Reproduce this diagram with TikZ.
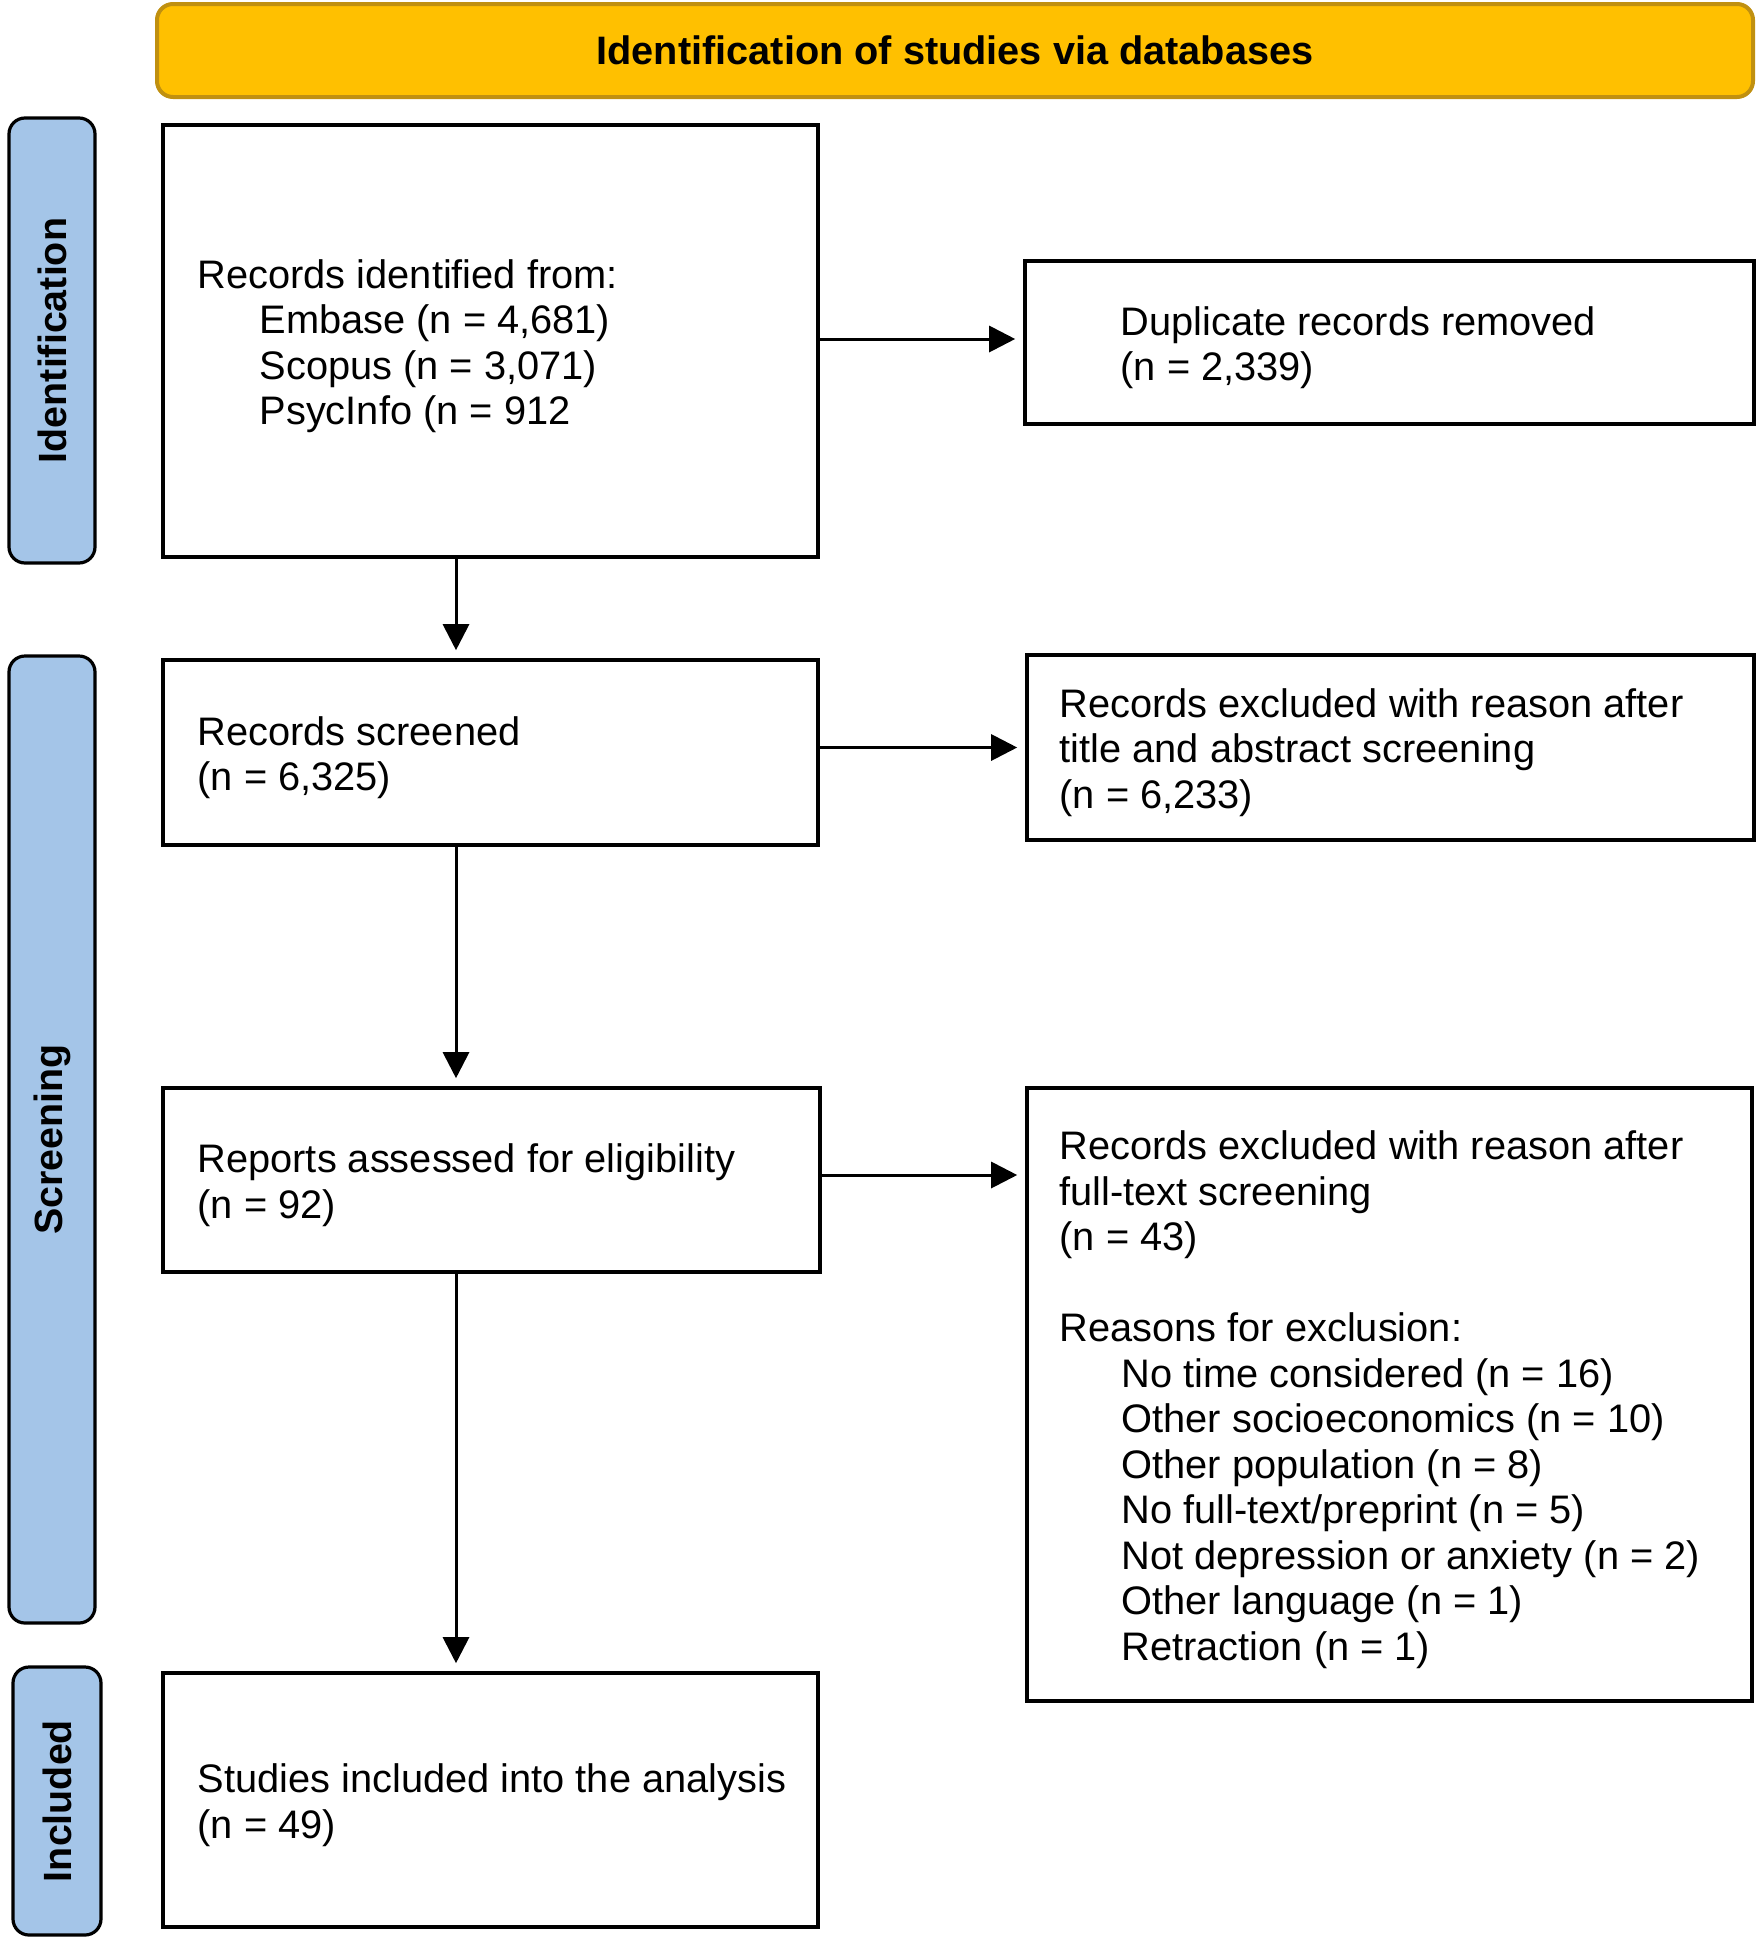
\documentclass[tikz,border=0pt]{standalone}
\usepackage{fontspec}
\setmainfont{Liberation Sans}
\usetikzlibrary{arrows.meta}
\definecolor{barblue}{HTML}{A4C5E8}
\definecolor{bannerfill}{HTML}{FFC000}
\definecolor{bannerdraw}{HTML}{C09010}
\tikzset{
  box/.style={draw=black, line width=1.8pt, rectangle, inner sep=0pt, fill=white},
  txt/.style={anchor=west, align=left, inner sep=0pt, yshift=-2.5pt, font=\fontsize{19.9}{22.75}\selectfont},
  bar/.style={draw=black, line width=1.6pt, fill=barblue, rounded corners=8pt, inner sep=0pt},
  barlabel/.style={rotate=90, font=\fontsize{19.7}{22.75}\selectfont\bfseries, inner sep=0pt},
  banner/.style={draw=bannerdraw, line width=2pt, fill=bannerfill, rounded corners=8pt, inner sep=0pt,
    font=\fontsize{19.85}{22.75}\selectfont\bfseries},
  arr/.style={line width=1.5pt, -{Triangle[length=13pt,width=13pt]}, shorten >=4pt}
}
\newcommand{\ind}{\hspace*{31pt}}
\begin{document}
\begin{tikzpicture}[x=0.5pt, y=-0.5pt]
\useasboundingbox (0,0) rectangle (1760,1938);
% banner
\node[banner, minimum width=798pt, minimum height=46.5pt] (ban) at (955,50.5) {Identification of studies via databases};
% side bars
\node[bar, minimum width=43pt, minimum height=222.5pt] (bar1) at (52,340.5) {};
\node[barlabel] (lab1) at (bar1.center) {Identification};
\node[bar, minimum width=43pt, minimum height=483.5pt] (bar2) at (52,1139.5) {};
\node[barlabel] (lab2) at (bar2.center) {Screening};
\node[bar, minimum width=44pt, minimum height=134pt] (bar3) at (57,1801) {};
\node[barlabel] (lab3) at (bar3.center) {Included};
% boxes
\node[box, minimum width=327.5pt, minimum height=216pt] (b1) at (490.5,341) {};
\node[txt] (t1) at ([xshift=18pt]b1.west) {Records identified from:\\ \ind Embase (n = 4,681)\\ \ind Scopus (n = 3,071)\\ \ind PsycInfo (n = 912};
\node[box, minimum width=364.5pt, minimum height=81.5pt] (dup) at (1389.5,342.5) {};
\node[txt] (tdup) at ([xshift=48.5pt]dup.west) {Duplicate records removed\\(n = 2,339)};
\node[box, minimum width=327.5pt, minimum height=92.5pt] (scr) at (490.5,752.5) {};
\node[txt] (tscr) at ([xshift=18pt]scr.west) {Records screened\\(n = 6,325)};
\node[box, minimum width=363.5pt, minimum height=92.5pt] (ex1) at (1390.5,747.5) {};
\node[txt] (tex1) at ([xshift=17pt]ex1.west) {Records excluded with reason after\\title and abstract screening\\(n = 6,233)};
\node[box, minimum width=328.5pt, minimum height=92pt] (rep) at (491.5,1180) {};
\node[txt] (trep) at ([xshift=18pt]rep.west) {Reports assessed for eligibility\\(n = 92)};
\node[box, minimum width=362.5pt, minimum height=306.5pt] (ex2) at (1389.5,1394.5) {};
\node[txt] (tex2) at ([xshift=17pt]ex2.west) {Records excluded with reason after\\full-text screening\\(n = 43)\\[22.75pt]Reasons for exclusion:\\ \ind No time considered (n = 16)\\ \ind Other socioeconomics (n = 10)\\ \ind Other population (n = 8)\\ \ind No full-text/preprint (n = 5)\\ \ind Not depression or anxiety (n = 2)\\ \ind Other language (n = 1)\\ \ind Retraction (n = 1)};
\node[box, minimum width=327.5pt, minimum height=127pt] (inc) at (490.5,1800) {};
\node[txt] (tinc) at ([xshift=18pt]inc.west) {Studies included into the analysis\\(n = 49)};
% arrows
\coordinate (ax) at (456,0);
\draw[arr] (b1.south -| ax) -- (scr.north -| ax);
\draw[arr] (scr.south -| ax) -- (rep.north -| ax);
\draw[arr] (rep.south -| ax) -- (inc.north -| ax);
\draw[arr] ([yshift=1pt]b1.east) -- ([yshift=1pt]b1.east -| dup.west);
\draw[arr] (scr.east |- ex1.west) -- (ex1.west);
\draw[arr] ([yshift=2.5pt]rep.east) -- ([yshift=2.5pt]rep.east -| ex2.west);
\end{tikzpicture}
\end{document}
